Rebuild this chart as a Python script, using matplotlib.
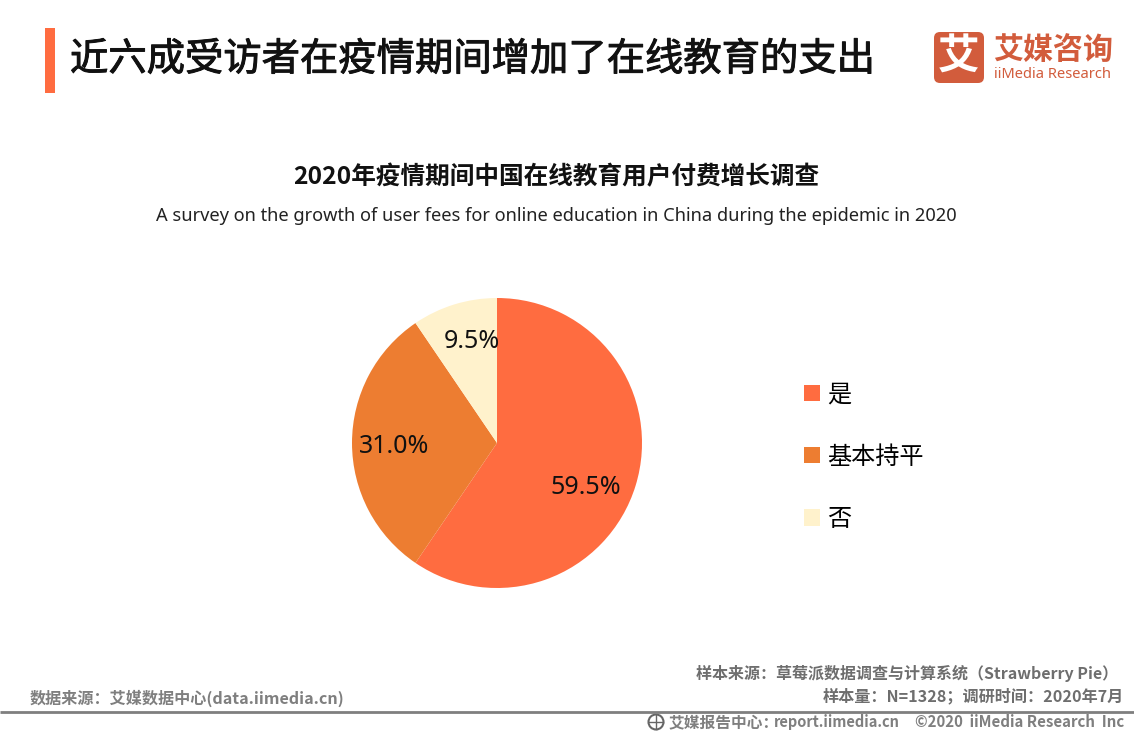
import matplotlib
matplotlib.use("Agg")
import matplotlib.pyplot as plt
import matplotlib.patheffects as pe
from matplotlib.patches import Rectangle, FancyBboxPatch, Circle

plt.rcParams['font.family'] = ['Noto Sans CJK SC', 'DejaVu Sans']

W, H = 1134, 737

categories = ['是', '基本持平', '否']
values = [59.5, 31.0, 9.5]
colors = ['#FF6C40', '#ED7D31', '#FFF2CC']

title = '近六成受访者在疫情期间增加了在线教育的支出'
chart_title = '2020年疫情期间中国在线教育用户付费增长调查'
chart_subtitle = 'A survey on the growth of user fees for online education in China during the epidemic in 2020'
source_left = '数据来源：艾媒数据中心(data.iimedia.cn)'
source_right_1 = '样本来源：草莓派数据调查与计算系统（Strawberry Pie）'
source_right_2 = '样本量：N=1328；调研时间：2020年7月'
footer_1 = '艾媒报告中心：'
footer_link = 'report.iimedia.cn'
footer_2 = '©2020  iiMedia Research  Inc'

fig = plt.figure(figsize=(W / 100, H / 100), dpi=100, facecolor='white')

# full figure overlay in pixel coords, y going down
bg = fig.add_axes([0, 0, 1, 1])
bg.set_xlim(0, W)
bg.set_ylim(H, 0)
bg.axis('off')

# title bar
bg.add_patch(Rectangle((45, 28), 10, 65, color='#FF6C40', lw=0))
t = bg.text(70, 60, title, fontsize=27.6, color='#111111', va='center', ha='left')
t.set_path_effects([pe.withStroke(linewidth=0.7, foreground='#111111')])

# logo
bg.add_patch(FancyBboxPatch((934, 32), 50, 51, boxstyle='round,pad=0,rounding_size=6', fc='#D25C3C', ec='none'))
bg.text(959, 58, '艾', fontsize=30, fontweight='bold', color='white', va='center', ha='center')
bg.text(1053, 50, '艾媒咨询', fontsize=21.6, fontweight='bold', color='#D25C3C', va='center', ha='center')
bg.text(1053, 74, 'iiMedia Research', fontsize=10.6, color='#D25C3C', va='center', ha='center', family=['Noto Sans'])

bg.text(556, 177, chart_title, fontsize=17.75, fontweight='bold', color='#111111', va='center', ha='center')
bg.text(556, 216, chart_subtitle, fontsize=13.15, color='#222222', va='center', ha='center', family=['Noto Sans'])

# footer
gray = '#7F7F7F'
bg.plot([0, W], [712, 712], color='#7F7F7F', lw=2, solid_capstyle='butt')
bg.text(30, 698, source_left, fontsize=11.6, fontweight='bold', color=gray, va='center', ha='left')
bg.text(1118, 673, source_right_1, fontsize=11.5, fontweight='bold', color='#6E6E6E', va='center', ha='right')
bg.text(1124, 696, source_right_2, fontsize=11.6, fontweight='bold', color='#6E6E6E', va='center', ha='right')
bg.text(669, 722, footer_1, fontsize=11.3, fontweight='bold', color=gray, va='center', ha='left')
bg.text(774, 722, footer_link, fontsize=10.5, fontweight='bold', color=gray, va='center', ha='left')
bg.text(1124, 722, footer_2, fontsize=10.8, fontweight='bold', color=gray, va='center', ha='right')
bg.add_patch(Circle((656, 722), 7.5, fc='none', ec='#666666', lw=1.5))
bg.plot([649, 663], [722, 722], color='#666666', lw=1)
bg.plot([656, 656], [715, 729], color='#666666', lw=1)

# pie, center 497,443 radius 145
r = 145
ax = fig.add_axes([(497 - r) / W, 1 - (443 + r) / H, 2 * r / W, 2 * r / H])
wedges, _, autotexts = ax.pie(values, colors=colors, startangle=90, counterclock=False,
                              radius=1.0, autopct='%.1f%%', pctdistance=0.7,
                              wedgeprops=dict(linewidth=0),
                              textprops=dict(fontsize=18, color='#111111'))
ax.set_xlim(-1, 1)
ax.set_ylim(-1, 1)
# labels sit a bit off the wedge middles in the original
for t, (x, y) in zip(autotexts, [(0.61, -0.31), (-0.71, -0.025), (-0.17, 0.70)]):
    t.set_position((x, y))
    t.set_family(['Noto Sans'])

leg = fig.legend(wedges, categories, loc='upper left', bbox_to_anchor=(804 / W, 1 - 381.5 / H),
                 frameon=False, fontsize=17.4, handlelength=0.66, handleheight=0.66,
                 handletextpad=0.28, labelspacing=1.5, borderpad=0, borderaxespad=0)

fig.savefig('out.png', dpi=100)
